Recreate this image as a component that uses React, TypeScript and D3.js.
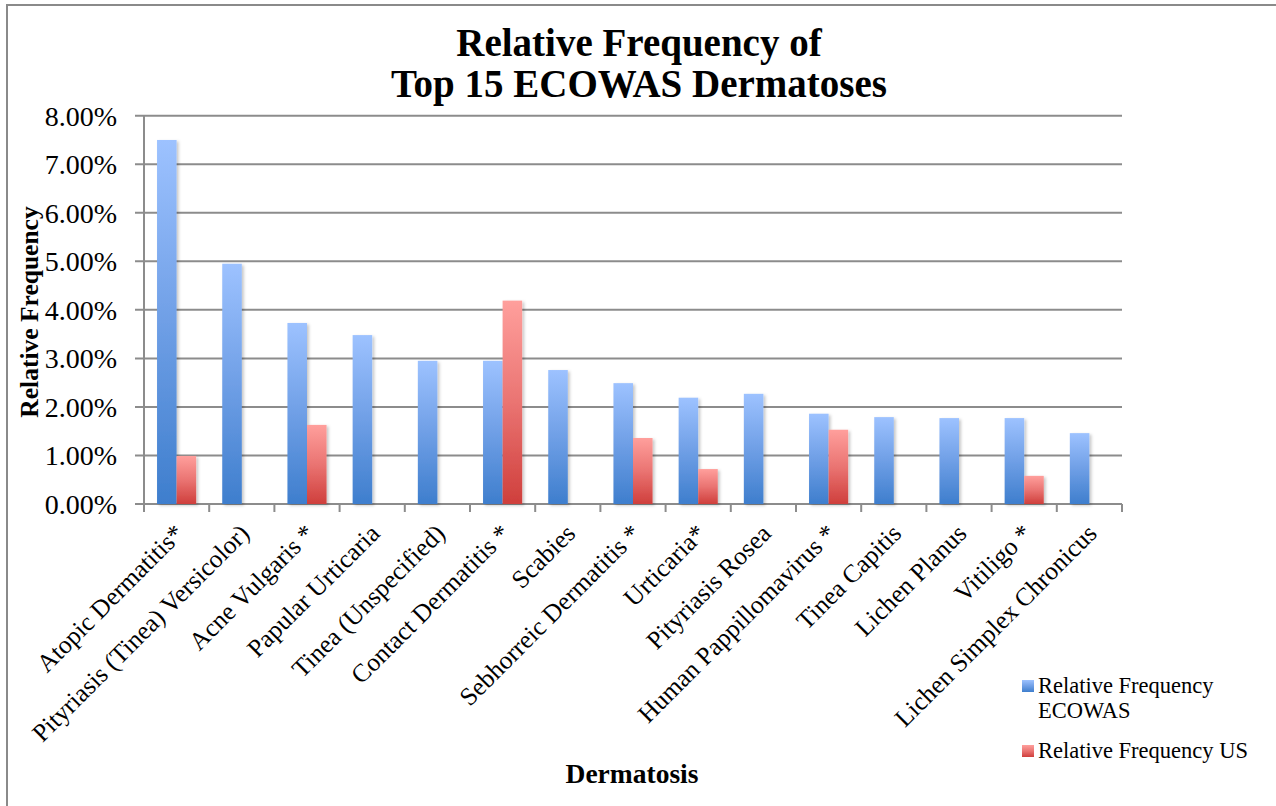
import React, { useEffect, useRef } from 'react';
import * as d3 from 'd3';

const categories = [
  'Atopic Dermatitis*',
  'Pityriasis (Tinea) Versicolor)',
  'Acne Vulgaris *',
  'Papular Urticaria',
  'Tinea (Unspecified)',
  'Contact Dermatitis *',
  'Scabies',
  'Sebhorreic Dermatitis *',
  'Urticaria*',
  'Pityriasis Rosea',
  'Human Pappillomavirus *',
  'Tinea Capitis',
  'Lichen Planus',
  'Vitiligo *',
  'Lichen Simplex Chronicus',
];

// relative frequency, ECOWAS
const ecowas = [0.075, 0.0495, 0.0373, 0.0348, 0.0295, 0.0295, 0.0276, 0.0249, 0.0219, 0.0227, 0.0186, 0.0179, 0.0177, 0.0177, 0.0146];
// relative frequency, US (null = not in list)
const us = [0.0099, null, 0.0163, null, null, 0.0419, null, 0.0136, 0.0072, null, 0.0153, null, null, 0.0058, null];

const seriesNames = ['Relative Frequency ECOWAS', 'Relative Frequency US'];
const yTicks = [0, 0.01, 0.02, 0.03, 0.04, 0.05, 0.06, 0.07, 0.08];

const App: React.FC = () => {
  const svgRef = useRef<SVGSVGElement>(null);

  useEffect(() => {
    if (!svgRef.current) return;
    d3.select(svgRef.current).selectAll('*').remove();

    const width = 1276;
    const height = 806;
    const left = 144;
    const right = 1122;
    const top = 115.7;
    const bottom = 504;
    const serif = '"Liberation Serif", "Times New Roman", serif';

    const svg = d3.select(svgRef.current)
      .attr('width', width)
      .attr('height', height);

    const defs = svg.append('defs');
    const grad = (id: string, c0: string, c1: string, c2: string) => {
      const g = defs.append('linearGradient')
        .attr('id', id)
        .attr('x1', 0).attr('y1', 0).attr('x2', 0).attr('y2', 1);
      g.append('stop').attr('offset', '0%').attr('stop-color', c0);
      g.append('stop').attr('offset', '50%').attr('stop-color', c1);
      g.append('stop').attr('offset', '100%').attr('stop-color', c2);
    };
    grad('gBlue', '#9dc2ff', '#6f9fe6', '#3e7ecd');
    grad('gRed', '#ff9f9c', '#ea7472', '#cf3f3c');

    const shadow = defs.append('filter').attr('id', 'shadow')
      .attr('x', '-20%').attr('y', '-5%').attr('width', '150%').attr('height', '115%');
    shadow.append('feDropShadow')
      .attr('dx', 2).attr('dy', 1.5).attr('stdDeviation', 1.5)
      .attr('flood-color', '#000').attr('flood-opacity', 0.22);

    // background + outer frame
    svg.append('rect').attr('width', width).attr('height', height).attr('fill', '#fff');
    svg.append('rect')
      .attr('x', 7).attr('y', 5)
      .attr('width', width + 20).attr('height', height + 20)
      .attr('fill', 'none')
      .attr('stroke', '#8a8a8a')
      .attr('stroke-width', 2);

    const x0 = d3.scaleBand<string>()
      .domain(categories)
      .range([left, right])
      .paddingInner(0.4)
      .paddingOuter(0.2);
    const x1 = d3.scaleBand<string>()
      .domain(['ecowas', 'us'])
      .range([0, x0.bandwidth()]);
    const y = d3.scaleLinear().domain([0, 0.08]).range([bottom, top]);
    const step = x0.step();

    // gridlines + y ticks
    svg.append('g').selectAll('line')
      .data(yTicks)
      .enter()
      .append('line')
      .attr('x1', left - 9)
      .attr('x2', right)
      .attr('y1', d => y(d))
      .attr('y2', d => y(d))
      .attr('stroke', '#8c8c8c')
      .attr('stroke-width', 2);

    svg.append('g').selectAll('text')
      .data(yTicks)
      .enter()
      .append('text')
      .attr('x', 117)
      .attr('y', d => y(d))
      .attr('dy', '0.35em')
      .attr('text-anchor', 'end')
      .attr('font-family', serif)
      .attr('font-size', 28)
      .attr('fill', '#000')
      .text(d => d3.format('.2%')(d));

    // y axis line
    svg.append('line')
      .attr('x1', left).attr('x2', left)
      .attr('y1', top).attr('y2', bottom + 8)
      .attr('stroke', '#8c8c8c').attr('stroke-width', 2);

    // x tick marks at category boundaries
    const bounds = d3.range(categories.length + 1).map(i => left + i * step);
    svg.append('g').selectAll('line')
      .data(bounds)
      .enter()
      .append('line')
      .attr('x1', d => d).attr('x2', d => d)
      .attr('y1', bottom).attr('y2', bottom + 8)
      .attr('stroke', '#8c8c8c').attr('stroke-width', 2);

    // bars
    const groups = svg.append('g').selectAll('g')
      .data(categories)
      .enter()
      .append('g')
      .attr('transform', d => `translate(${x0(d)},0)`);

    groups.append('rect')
      .attr('x', x1('ecowas')!)
      .attr('y', (_, i) => y(ecowas[i]))
      .attr('width', x1.bandwidth())
      .attr('height', (_, i) => bottom - y(ecowas[i]))
      .attr('fill', 'url(#gBlue)')
      .attr('filter', 'url(#shadow)');

    groups.filter((_, i) => us[i] !== null)
      .append('rect')
      .attr('x', x1('us')!)
      .attr('y', d => y(us[categories.indexOf(d)] as number))
      .attr('width', x1.bandwidth())
      .attr('height', d => bottom - y(us[categories.indexOf(d)] as number))
      .attr('fill', 'url(#gRed)')
      .attr('filter', 'url(#shadow)');

    // category labels
    svg.append('g').selectAll('text')
      .data(categories)
      .enter()
      .append('text')
      .attr('transform', d => `translate(${x0(d)! + x0.bandwidth() / 2 + 9},${535}) rotate(-45)`)
      .attr('text-anchor', 'end')
      .attr('font-family', serif)
      .attr('font-size', 25.5)
      .attr('fill', '#000')
      .text(d => d);

    // titles
    const title = svg.append('text')
      .attr('text-anchor', 'middle')
      .attr('font-family', serif)
      .attr('font-weight', 'bold')
      .attr('font-size', 39)
      .attr('fill', '#000');
    title.append('tspan').attr('x', 639).attr('y', 56).text('Relative Frequency of');
    title.append('tspan').attr('x', 639).attr('y', 97).text('Top 15 ECOWAS Dermatoses');

    svg.append('text')
      .attr('transform', `translate(38,312) rotate(-90)`)
      .attr('text-anchor', 'middle')
      .attr('font-family', serif)
      .attr('font-weight', 'bold')
      .attr('font-size', 25.5)
      .text('Relative Frequency');

    svg.append('text')
      .attr('x', 632)
      .attr('y', 783)
      .attr('text-anchor', 'middle')
      .attr('font-family', serif)
      .attr('font-weight', 'bold')
      .attr('font-size', 27.5)
      .text('Dermatosis');

    // legend
    const legend = svg.append('g').attr('font-family', serif).attr('font-size', 22.5);
    legend.append('rect').attr('x', 1022).attr('y', 680).attr('width', 12).attr('height', 12).attr('fill', 'url(#gBlue)');
    const t1 = legend.append('text').attr('fill', '#000');
    t1.append('tspan').attr('x', 1038).attr('y', 693).text('Relative Frequency');
    t1.append('tspan').attr('x', 1038).attr('y', 718).text(seriesNames[0].replace('Relative Frequency ', ''));
    legend.append('rect').attr('x', 1022).attr('y', 745).attr('width', 12).attr('height', 12).attr('fill', 'url(#gRed)');
    legend.append('text').attr('x', 1038).attr('y', 758).attr('fill', '#000').text(seriesNames[1]);
  }, []);

  return (
    <div style={{ position: 'absolute', left: 0, top: 0 }}>
      <svg ref={svgRef} style={{ display: 'block' }}></svg>
    </div>
  );
};

export default App;
